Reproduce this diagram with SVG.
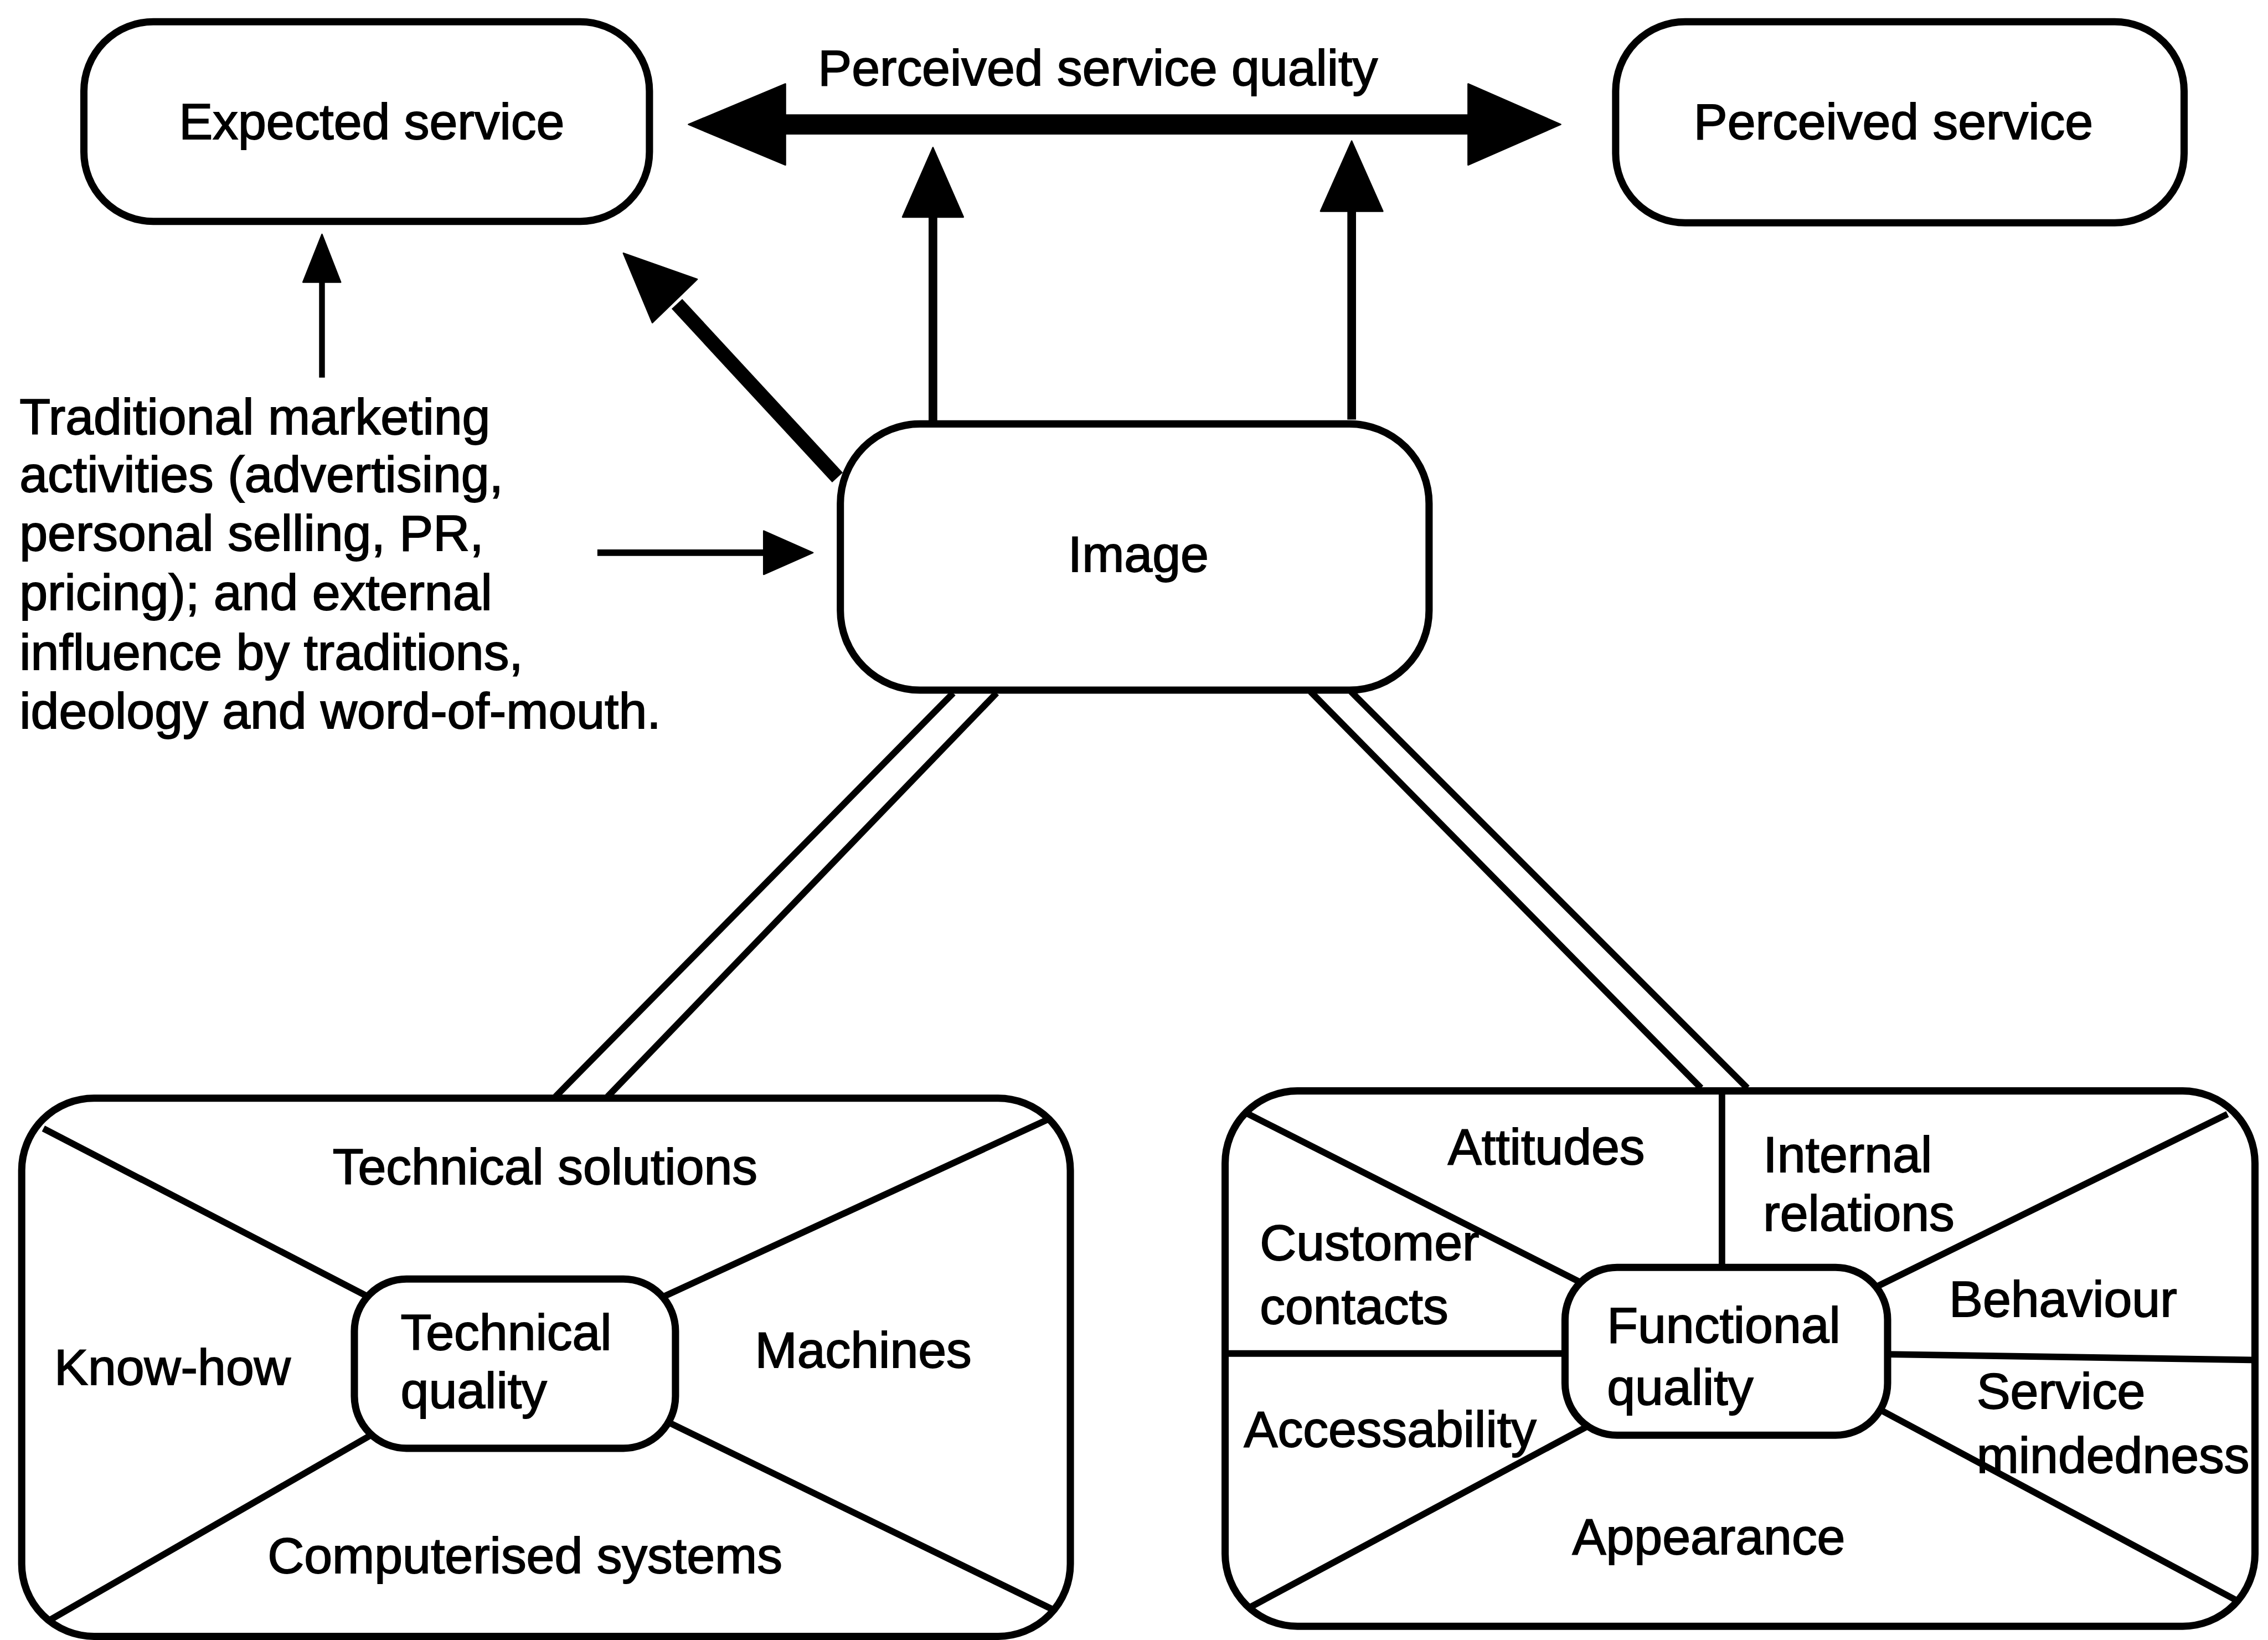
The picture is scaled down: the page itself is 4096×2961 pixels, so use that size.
<svg xmlns="http://www.w3.org/2000/svg" width="4096" height="2961" viewBox="0 0 4096 2961">
<style>
.box{fill:#fff;stroke:#000;stroke-width:5}
.div{fill:none;stroke:#000;stroke-width:4.5}
.ln{fill:none;stroke:#000;stroke-linecap:butt}
.hd{fill:#000;stroke:#000;stroke-width:1;stroke-linejoin:round}
text{font-family:"Liberation Sans",Arial,Helvetica,sans-serif;font-size:35px;fill:#000;stroke:#000;stroke-width:0.7}
</style>
<rect width="4096" height="2961" fill="#fff"/>
<g transform="scale(2.61224)">
<g id="connectors">
  <rect x="540" y="79" width="478" height="14" fill="#000"/>
  <polygon class="hd" points="476,86 543,58 543,114"/>
  <polygon class="hd" points="1079,86 1015,58 1015,114"/>
  <line class="ln" x1="645" y1="292" x2="645" y2="148" stroke-width="6"/>
  <polygon class="hd" points="645,102 624,150 666,150"/>
  <line class="ln" x1="934.5" y1="290" x2="934.5" y2="144" stroke-width="6"/>
  <polygon class="hd" points="934.5,97.5 913,146 956,146"/>
  <line class="ln" x1="579" y1="330" x2="468" y2="210" stroke-width="10"/>
  <polygon class="hd" points="431,175 482,193 451,223"/>
  <line class="ln" x1="222.6" y1="261" x2="222.6" y2="192" stroke-width="4"/>
  <polygon class="hd" points="222.6,162 209.5,195 235.5,195"/>
  <line class="ln" x1="413" y1="382" x2="530" y2="382" stroke-width="4.5"/>
  <polygon class="hd" points="562,382 528,367 528,397"/>
  <line class="div" x1="659" y1="479" x2="384" y2="758"/>
  <line class="div" x1="689" y1="479" x2="420" y2="758"/>
  <line class="div" x1="906" y1="478" x2="1176" y2="752"/>
  <line class="div" x1="934" y1="478" x2="1208" y2="752"/>
</g>
<g id="node-expected">
  <rect class="box" x="58" y="15" width="391" height="138" rx="48" ry="48"/>
  <text x="257" y="96" text-anchor="middle">Expected service</text>
</g>
<g id="node-perceived">
  <rect class="box" x="1117" y="15" width="393" height="139" rx="48" ry="48"/>
  <text x="1309" y="96" text-anchor="middle">Perceived service</text>
</g>
<g id="label-psq">
  <text x="759" y="59" text-anchor="middle">Perceived service quality</text>
</g>
<g id="label-traditional">
  <text x="13.5" y="300">Traditional marketing</text>
  <text x="13.5" y="340">activities (advertising,</text>
  <text x="13.5" y="380.5">personal selling, PR,</text>
  <text x="13.5" y="421.5">pricing); and external</text>
  <text x="13.5" y="463">influence by traditions,</text>
  <text x="13.5" y="503.5">ideology and word-of-mouth.</text>
</g>
<g id="node-image">
  <rect class="box" x="581" y="293" width="407" height="184" rx="55" ry="55"/>
  <text x="787" y="395" text-anchor="middle">Image</text>
</g>
<g id="node-technical">
  <rect class="box" x="15" y="759" width="725" height="372" rx="50" ry="50"/>
  <line class="div" x1="30" y1="780" x2="256" y2="897"/>
  <line class="div" x1="726" y1="773" x2="457" y2="897"/>
  <line class="div" x1="34" y1="1120" x2="258" y2="991"/>
  <line class="div" x1="728" y1="1112.5" x2="460" y2="982"/>
  <rect class="box" x="245" y="884" width="222" height="117" rx="36" ry="36"/>
  <text x="230" y="818.5">Technical solutions</text>
  <text x="37.5" y="957">Know-how</text>
  <text x="522" y="945">Machines</text>
  <text x="277" y="933">Technical</text>
  <text x="277" y="973">quality</text>
  <text x="185" y="1087">Computerised systems</text>
</g>
<g id="node-functional">
  <rect class="box" x="847" y="754" width="712" height="370" rx="50" ry="50"/>
  <line class="div" x1="1190.5" y1="755" x2="1190.5" y2="877"/>
  <line class="div" x1="861" y1="769" x2="1094" y2="887"/>
  <line class="div" x1="1540" y1="770" x2="1296" y2="890"/>
  <line class="div" x1="847" y1="935.5" x2="1083" y2="935.5"/>
  <line class="div" x1="1305" y1="936" x2="1559" y2="940"/>
  <line class="div" x1="864" y1="1111" x2="1099" y2="985"/>
  <line class="div" x1="1546" y1="1106" x2="1301" y2="975"/>
  <rect class="box" x="1082" y="876" width="223" height="116" rx="36" ry="36"/>
  <text x="1001" y="804.5">Attitudes</text>
  <text x="1219" y="810">Internal</text>
  <text x="1219" y="850.5">relations</text>
  <text x="871" y="871">Customer</text>
  <text x="871" y="915">contacts</text>
  <text x="1347.5" y="910">Behaviour</text>
  <text x="1111" y="928">Functional</text>
  <text x="1111" y="971">quality</text>
  <text x="860" y="1000">Accessability</text>
  <text x="1366.5" y="973.5">Service</text>
  <text x="1366.5" y="1018">mindedness</text>
  <text x="1087" y="1074">Appearance</text>
</g>
</g>
</svg>
